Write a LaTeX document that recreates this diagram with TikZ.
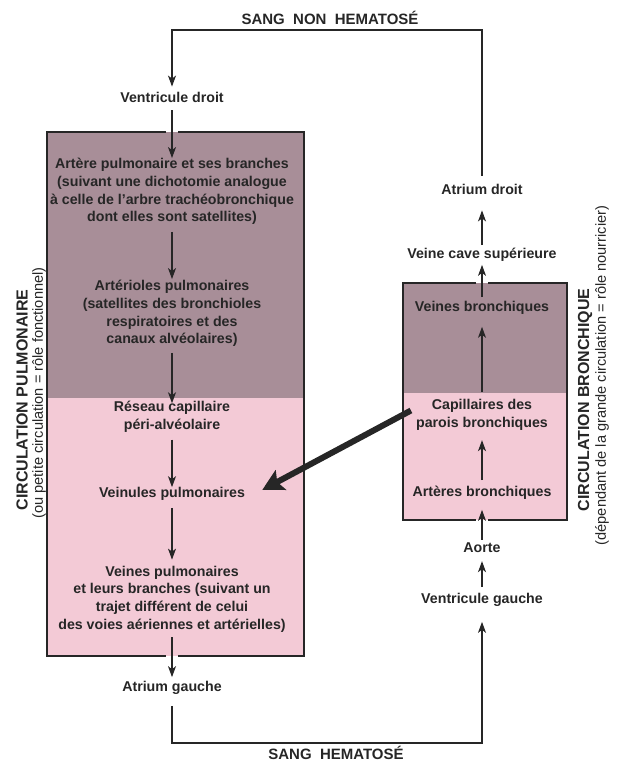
\documentclass[tikz,border=0pt]{standalone}
\usepackage{fontspec}
\setmainfont{Liberation Sans}
\usetikzlibrary{arrows.meta}
\definecolor{darkz}{HTML}{A88E98}
\definecolor{pinkz}{HTML}{F3CAD6}
\definecolor{ink}{HTML}{262626}
\begin{document}
\begin{tikzpicture}[x=1pt,y=-1pt,
  lbl/.style={font=\bfseries\fontsize{14.2}{17.7}\selectfont, text=ink, align=center, inner sep=0pt},
  ttl/.style={font=\bfseries\fontsize{15}{17}\selectfont, text=ink, inner sep=0pt},
  side/.style={font=\bfseries\fontsize{16}{18}\selectfont, text=ink, inner sep=0pt, rotate=90},
  subl/.style={font=\fontsize{14.6}{16}\selectfont, text=ink, inner sep=0pt, rotate=90},
  conn/.style={draw=ink, line width=1.2pt, -{Stealth[length=11pt,width=8pt,inset=3pt]}},
  border/.style={draw=ink, line width=1.8pt},
  big/.style={draw=ink, line width=6pt, -{Stealth[length=21pt,width=22pt,inset=4pt]}},
]
\useasboundingbox (0,0) rectangle (617,762);
% boxes
\fill[darkz] (47,132) rectangle (304,398);
\fill[pinkz] (47,398) rectangle (304,656);
\draw[border] (166,132) -- (47,132) -- (47,656) -- (166,656);
\draw[border] (178,132) -- (304,132) -- (304,656) -- (178,656);
\fill[darkz] (403,283) rectangle (567,393);
\fill[pinkz] (403,393) rectangle (567,520);
\draw[border] (476,283) -- (403,283) -- (403,520) -- (476,520);
\draw[border] (488,283) -- (567,283) -- (567,520) -- (488,520);
% titles
\node[ttl] (snh) at (330,18) {SANG\ \ NON\ \ HEMATOSÉ};
\node[ttl] (sh) at (336,753) {SANG\ \ HEMATOSÉ};
% side labels
\node[side] (cpl) at (22,400) {CIRCULATION PULMONAIRE};
\node[subl] (cps) at (39,393) {(ou petite circulation = rôle fonctionnel)};
\node[side] (cbr) at (585,400) {CIRCULATION BRONCHIQUE};
\node[subl] (cbs) at (602,375.5) {(dépendant de la grande circulation = rôle nourricier)};
% left column
\node[lbl] (vd) at (172,97) {Ventricule droit};
\node[lbl] (ap) at (172,191.5) {Artère pulmonaire et ses branches\\(suivant une dichotomie analogue\\à celle de l'arbre trachéobronchique\\dont elles sont satellites)};
\node[lbl] (ar) at (172,313.5) {Artérioles pulmonaires\\(satellites des bronchioles\\respiratoires et des\\canaux alvéolaires)};
\node[lbl] (rc) at (172,417) {Réseau capillaire\\péri-alvéolaire};
\node[lbl] (vp) at (172,494) {Veinules pulmonaires};
\node[lbl] (vep) at (172,599) {Veines pulmonaires\\et leurs branches (suivant un\\trajet différent de celui\\des voies aériennes et artérielles)};
\node[lbl] (ag) at (172,688) {Atrium gauche};
% right column
\node[lbl] (ad) at (482,189) {Atrium droit};
\node[lbl] (vc) at (482,255) {Veine cave supérieure};
\node[lbl] (vb) at (482,308) {Veines bronchiques};
\node[lbl] (cap) at (482,414.5) {Capillaires des\\parois bronchiques};
\node[lbl] (ab) at (482,493) {Artères bronchiques};
\node[lbl] (ao) at (482,548) {Aorte};
\node[lbl] (vg) at (482,600) {Ventricule gauche};
\coordinate (tl) at (172,30);
\coordinate (tr) at (482,30);
\coordinate (bl) at (172,743);
\coordinate (br) at (482,743);
% connectors left
\draw[conn, shorten <=8pt, shorten >=5pt] (ad) -- (tr) -- (tl) -- (vd);
\draw[conn, shorten <=8pt, shorten >=0pt] (vd) -- (ap);
\draw[conn, shorten <=7pt, shorten >=1pt] (ap) -- (ar);
\draw[conn, shorten <=6pt, shorten >=-2pt] (ar) -- (rc);
\draw[conn, shorten <=7pt, shorten >=0pt] (rc) -- (vp);
\draw[conn, shorten <=7pt, shorten >=6pt] (vp) -- (vep);
\draw[conn, shorten <=5pt, shorten >=4pt] (vep) -- (ag);
\draw[conn, shorten <=11pt, shorten >=15pt] (ag) -- (bl) -- (br) -- (vg);
% connectors right
\draw[conn, shorten <=6pt, shorten >=8pt] (vg) -- (ao);
\draw[conn, shorten <=3pt, shorten >=10pt] (ao) -- (ab);
\draw[conn, shorten <=6pt, shorten >=10pt] (ab) -- (cap);
\draw[conn, shorten <=7pt, shorten >=12pt] (cap) -- (vb);
\draw[conn, shorten <=4pt, shorten >=3pt] (vb) -- (vc);
\draw[conn, shorten <=3pt, shorten >=16pt] (vc) -- (ad);
% thick arrow
\draw[big] ([shift={(-5,-4)}]cap.west) -- ([shift={(17,-4)}]vp.east);
\end{tikzpicture}
\end{document}
